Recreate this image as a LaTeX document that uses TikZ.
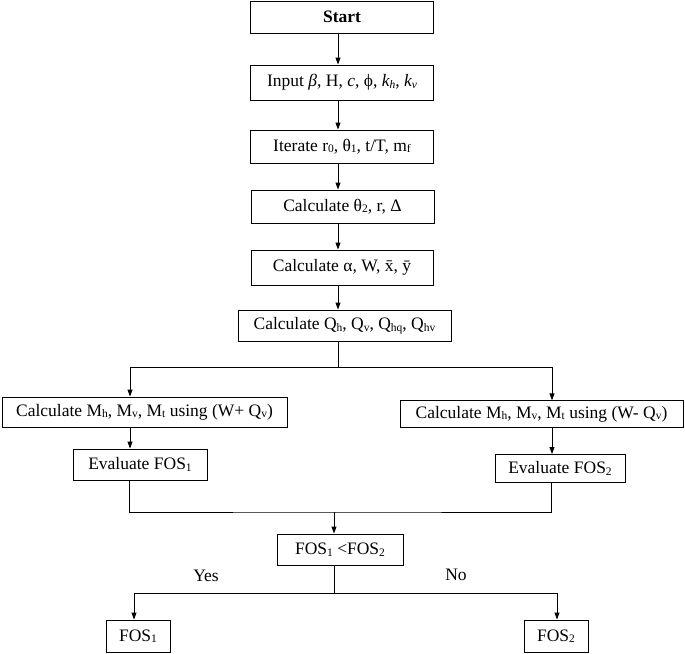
\documentclass[tikz,border=0pt]{standalone}
\usepackage{fontspec}
\setmainfont{Liberation Serif}
\usetikzlibrary{arrows.meta}
\newcommand\sbs[1]{\raisebox{-1.6pt}{\fontsize{11.5}{11.5}\selectfont #1}}
\begin{document}
\begin{tikzpicture}[x=1pt,y=-1pt,
  box/.style={draw,line width=0.9pt,inner sep=0pt,font=\fontsize{17.5}{20}\selectfont},
  lbl/.style={inner sep=0pt,font=\fontsize{17.5}{20}\selectfont},
  arr/.style={line width=0.9pt,-{Triangle[length=7pt,width=5pt]}},
  ln/.style={line width=0.9pt}]
\useasboundingbox (0,0) rectangle (685,653);
\node[box,minimum width=183pt,minimum height=32pt] (start) at (342,17) {\textbf{Start}};
\node[box,minimum width=183pt,minimum height=35pt] (input) at (342,82.5) {Input \textit{β}, H, \textit{c}, ϕ, \textit{k\sbs{h}}, \textit{k\sbs{v}}};
\node[box,minimum width=183pt,minimum height=33pt] (iter) at (342,146.5) {Iterate r\sbs{0}, θ\sbs{1}, t/T, m\sbs{f}};
\node[box,minimum width=183pt,minimum height=33pt] (theta) at (342.5,206.5) {Calculate θ\sbs{2}, r, Δ};
\node[box,minimum width=182pt,minimum height=35pt] (alpha) at (342,267.5) {Calculate α, W, \=x, \=y};
\node[box,minimum width=213pt,minimum height=31pt] (q) at (344.5,325.5) {Calculate Q\sbs{h}, Q\sbs{v}, Q\sbs{hq}, Q\sbs{hv}};
\node[box,minimum width=285pt,minimum height=30pt] (left) at (144.5,412) {Calculate M\sbs{h}, M\sbs{v}, M\sbs{t} using (W+ Q\sbs{v})};
\node[box,minimum width=283pt,minimum height=26.5pt] (right) at (541.5,414) {Calculate M\sbs{h}, M\sbs{v}, M\sbs{t} using (W- Q\sbs{v})};
\node[box,minimum width=134pt,minimum height=31pt] (ev1) at (140,464.5) {Evaluate FOS\sbs{1}};
\node[box,minimum width=130pt,minimum height=28pt] (ev2) at (560,468.5) {Evaluate FOS\sbs{2}};
\node[box,minimum width=126pt,minimum height=31pt] (dec) at (340,549.5) {FOS\sbs{1} <FOS\sbs{2}};
\node[box,minimum width=64pt,minimum height=32pt] (f1) at (138,636) {FOS\sbs{1}};
\node[box,minimum width=64pt,minimum height=32pt] (f2) at (556,636) {FOS\sbs{2}};
\node[lbl] (yes) at (206,576) {Yes};
\node[lbl] (no) at (456,575) {No};
\coordinate (cx) at (338,0);
\coordinate (s1) at (338,367);
\coordinate (s1l) at (130,367);
\coordinate (s1r) at (552,367);
\coordinate (m1) at (334,512);
\coordinate (s2) at (334,593);
\draw[arr] (start.south -| cx) -- (input.north -| cx);
\draw[arr] (input.south -| cx) -- (iter.north -| cx);
\draw[arr] (iter.south -| cx) -- (theta.north -| cx);
\draw[arr] (theta.south -| cx) -- (alpha.north -| cx);
\draw[arr] (alpha.south -| cx) -- (q.north -| cx);
\draw[ln] (q.south -| cx) -- (s1);
\draw[ln] (s1l) -- (s1r);
\draw[arr] (s1l) -- (left.north -| s1l);
\draw[arr] (s1r) -- (right.north -| s1r);
\draw[arr] (left.south -| s1l) -- (ev1.north -| s1l);
\draw[arr] (right.south -| s1r) -- (ev2.north -| s1r);
\draw[ln] (ev1.south -| 129,0) |- (m1) -| (ev2.south -| 551,0);
\draw[arr] (m1) -- (dec.north -| m1);
\draw[ln] (dec.south -| m1) -- (s2);
\draw[arr] (s2) -| (f1.north -| 134,0);
\draw[arr] (s2) -| (f2.north -| 557,0);
\end{tikzpicture}
\end{document}
